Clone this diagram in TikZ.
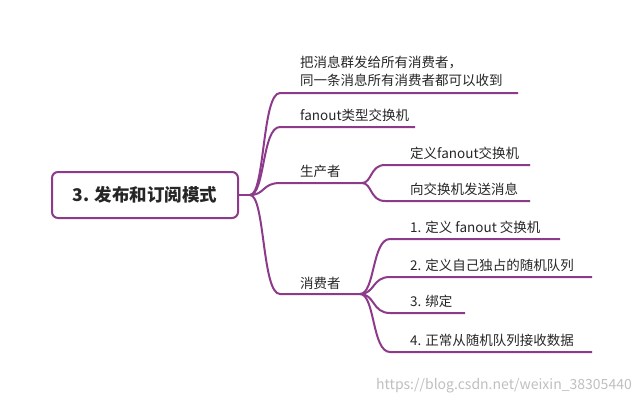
\documentclass[tikz,border=0pt]{standalone}
\usepackage{fontspec}
\setmainfont{Noto Sans CJK SC}
\definecolor{mp}{HTML}{8E3A8A}
\begin{document}
\begin{tikzpicture}[x=1pt,y=-1pt,
  br/.style={draw=mp,line width=2pt},
  lbl/.style={anchor=south west,inner sep=0pt,font=\fontsize{13.5}{18}\selectfont,text=black!85}]
\useasboundingbox (0,0) rectangle (640,405);
\node[draw=mp,line width=2pt,rounded corners=6pt,minimum width=186pt,minimum height=46pt,font=\fontsize{17.5}{20}\selectfont\bfseries,text=black!85] (root) at (145,195) {3. 发布和订阅模式};
\coordinate (r) at (250,195);
\coordinate (b1s) at (280,93); \coordinate (b1e) at (518,93);
\node[lbl,align=left] (t1) at (300,87) {把消息群发给所有消费者，\\同一条消息所有消费者都可以收到};
\coordinate (b2s) at (280,127); \coordinate (b2e) at (415,127);
\node[lbl] (t2) at (300,122) {fanout类型交换机};
\coordinate (b3s) at (280,183); \coordinate (b3e) at (362,183);
\node[lbl] (t3) at (300,178) {生产者};
\coordinate (b4s) at (280,294); \coordinate (b4e) at (360,294);
\node[lbl] (t4) at (300,290) {消费者};
\draw[br] (root.east) -- (r);
\foreach \s/\e in {b1s/b1e,b2s/b2e,b3s/b3e,b4s/b4e}{
  \draw[br] (r) .. controls (265,195) and (262,0|-\s) .. (\s) -- (\e);}
\coordinate (p1s) at (385,165); \coordinate (p1e) at (530,165);
\coordinate (p2s) at (385,201); \coordinate (p2e) at (530,201);
\node[lbl] (tp1) at (410,160) {定义fanout交换机};
\node[lbl] (tp2) at (410,196) {向交换机发送消息};
\foreach \s/\e in {p1s/p1e,p2s/p2e}{
  \draw[br] (b3e) .. controls (372,183) and (370,0|-\s) .. (\s) -- (\e);}
\coordinate (c1s) at (390,239); \coordinate (c1e) at (560,239);
\coordinate (c2s) at (390,277); \coordinate (c2e) at (592,277);
\coordinate (c3s) at (390,313); \coordinate (c3e) at (465,313);
\coordinate (c4s) at (390,352); \coordinate (c4e) at (592,352);
\node[lbl] (tc1) at (410,234) {1. 定义 fanout 交换机};
\node[lbl] (tc2) at (410,272) {2. 定义自己独占的随机队列};
\node[lbl] (tc3) at (410,308) {3. 绑定};
\node[lbl] (tc4) at (410,347) {4. 正常从随机队列接收数据};
\foreach \s/\e in {c1s/c1e,c2s/c2e,c3s/c3e,c4s/c4e}{
  \draw[br] (b4e) .. controls (375,294) and (372,0|-\s) .. (\s) -- (\e);}
\node[anchor=east,inner sep=0pt,font=\fontsize{14}{16}\selectfont,text=black!25] (wm) at (632,386) {https://blog.csdn.net/weixin\_38305440};
\end{tikzpicture}
\end{document}
